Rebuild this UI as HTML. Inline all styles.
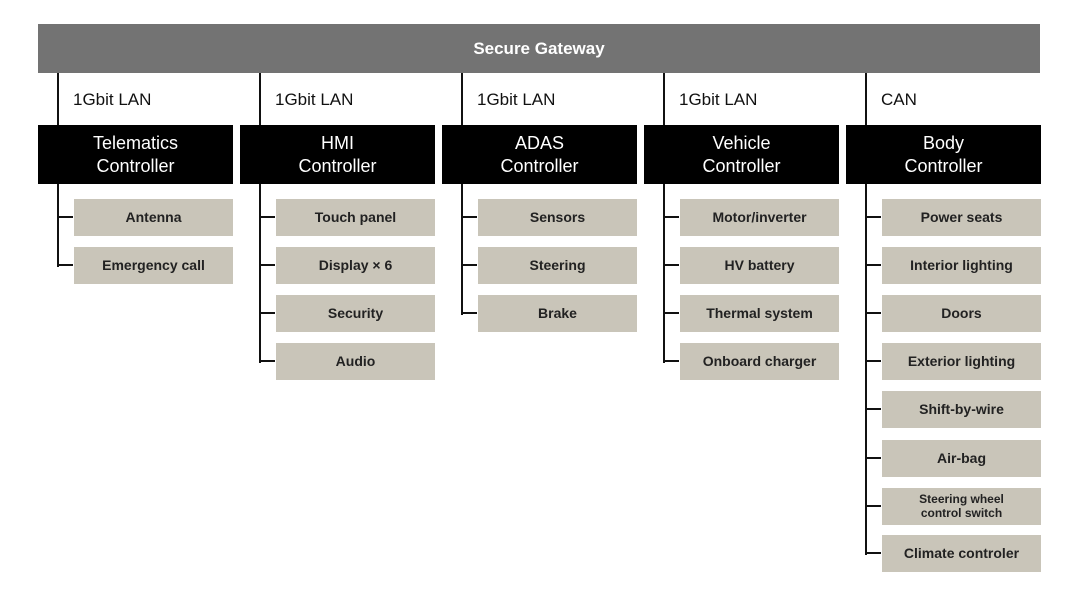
<!DOCTYPE html><html><head><style>
body{margin:0;width:1080px;height:600px;background:#fff;position:relative;font-family:"Liberation Sans",sans-serif;overflow:hidden}
div{position:absolute;box-sizing:border-box}
.bar{left:38px;top:24px;width:1002px;height:49px;background:#737373;color:#fff;font-size:17px;font-weight:bold;text-align:center;line-height:49px}
.v{width:2px;background:#111}
.h{height:2px;background:#111;width:16px}
.lan{font-size:17px;color:#111;top:90px}
.ctl{background:#000;color:#fff;width:195px;height:59px;top:125px;text-align:center;font-size:18px;line-height:23px;padding-top:7px}
.it{background:#c9c5b9;width:159px;height:37px;text-align:center;font-size:14px;font-weight:bold;color:#222;line-height:37px}
.sm{font-size:12px;line-height:14px;padding-top:4px}
</style></head><body>
<div class="bar">Secure Gateway</div>
<div id="c"></div>
<script>
var cols=[["1Gbit LAN","Telematics<br>Controller",["Antenna","Emergency call"]],
["1Gbit LAN","HMI<br>Controller",["Touch panel","Display × 6","Security","Audio"]],
["1Gbit LAN","ADAS<br>Controller",["Sensors","Steering","Brake"]],
["1Gbit LAN","Vehicle<br>Controller",["Motor/inverter","HV battery","Thermal system","Onboard charger"]],
["CAN","Body<br>Controller",["Power seats","Interior lighting","Doors","Exterior lighting","Shift-by-wire","Air-bag","Steering wheel<br>control switch","Climate controler"]]];
var tops=[199,247,295,343,391,440,488,535],h="";
cols.forEach(function(c,i){var x=38+i*202;
h+='<div class="v" style="left:'+(x+19)+'px;top:73px;height:52px"></div>';
h+='<div class="lan" style="left:'+(x+35)+'px">'+c[0]+'</div>';
h+='<div class="ctl" style="left:'+x+'px">'+c[1]+'</div>';
var n=c[2].length,last=tops[n-1]+18;
h+='<div class="v" style="left:'+(x+19)+'px;top:184px;height:'+(last-184+2)+'px"></div>';
c[2].forEach(function(t,j){var y=tops[j];
h+='<div class="h" style="left:'+(x+19)+'px;top:'+(y+17)+'px"></div>';
h+='<div class="it'+(t.indexOf("<br>")>0?" sm":"")+'" style="left:'+(x+36)+'px;top:'+y+'px">'+t+'</div>';});
});
document.getElementById("c").outerHTML=h;
</script>
</body></html>
